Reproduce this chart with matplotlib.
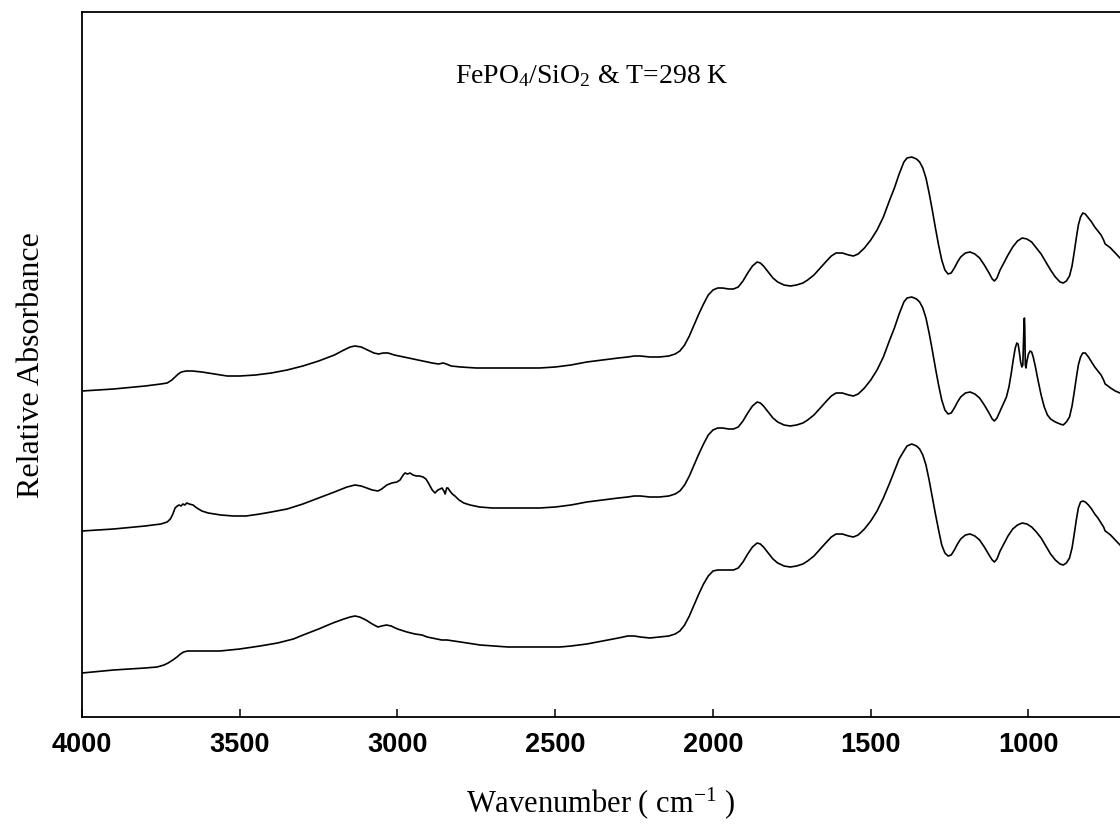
import matplotlib
matplotlib.use("Agg")
import matplotlib.pyplot as plt

# FTIR spectra of FePO4/SiO2 at 298 K: (wavenumber cm-1, absorbance a.u., stacked)
top_pts = [
    (4000, 326), (3900, 328), (3800, 331), (3750, 333), (3730, 334), (3715, 337),
    (3705, 340), (3695, 343), (3685, 345), (3670, 346), (3650, 346), (3620, 345),
    (3580, 343), (3540, 341), (3500, 341), (3450, 342), (3400, 344), (3350, 347),
    (3300, 351), (3250, 356), (3200, 362), (3170, 367), (3150, 370), (3135, 371),
    (3115, 370), (3095, 367), (3075, 364), (3060, 363), (3045, 364), (3030, 364),
    (3010, 362), (2980, 360), (2950, 358), (2920, 356), (2890, 354), (2870, 353),
    (2855, 354), (2845, 353), (2830, 351), (2800, 350), (2750, 349), (2700, 349),
    (2600, 349), (2550, 349), (2500, 350), (2450, 352), (2400, 355), (2350, 357),
    (2300, 359), (2270, 360), (2250, 361), (2230, 361), (2200, 360), (2170, 360),
    (2140, 361), (2120, 363), (2105, 366), (2090, 372), (2075, 381), (2060, 392),
    (2045, 403), (2030, 413), (2015, 422), (2000, 427), (1985, 429), (1970, 429),
    (1950, 428), (1935, 428), (1920, 430), (1905, 436), (1890, 444), (1875, 451),
    (1860, 455), (1850, 454), (1840, 451), (1825, 445), (1810, 439), (1795, 435),
    (1775, 432), (1755, 431), (1735, 432), (1715, 434), (1700, 437), (1680, 442),
    (1660, 449), (1640, 456), (1625, 461), (1610, 464), (1590, 464), (1570, 462),
    (1555, 461), (1540, 463), (1520, 469), (1500, 477), (1480, 487), (1460, 500),
    (1440, 517), (1425, 529), (1410, 543), (1395, 555), (1385, 559), (1370, 560),
    (1355, 558), (1345, 555), (1335, 549), (1325, 539), (1315, 524), (1305, 507),
    (1295, 489), (1285, 472), (1275, 457), (1265, 447), (1255, 443), (1245, 444),
    (1235, 449), (1225, 455), (1215, 460), (1200, 464), (1185, 465), (1170, 463),
    (1155, 459), (1140, 452), (1125, 444), (1115, 438), (1108, 436), (1100, 439),
    (1090, 447), (1080, 453), (1065, 462), (1050, 470), (1035, 476), (1020, 479),
    (1005, 478), (990, 475), (975, 469), (960, 463), (945, 455), (930, 447),
    (915, 440), (900, 435), (890, 434), (880, 436), (870, 441), (862, 451),
    (855, 465), (848, 480), (842, 492), (835, 500), (828, 504), (820, 503),
    (810, 499), (800, 495), (790, 490), (780, 486), (770, 482), (762, 477),
    (757, 473), (748, 471), (740, 469), (725, 464), (710, 459),
]

mid_pts = [
    (4000, 186), (3900, 188), (3800, 191), (3750, 193), (3730, 195), (3720, 198),
    (3712, 203), (3705, 209), (3698, 211), (3692, 212), (3686, 211), (3680, 213),
    (3674, 212), (3668, 214), (3660, 213), (3648, 212), (3636, 209), (3620, 206),
    (3600, 204), (3560, 202), (3520, 201), (3480, 201), (3436, 203), (3400, 205),
    (3350, 208), (3300, 213), (3250, 219), (3200, 225), (3160, 230), (3135, 232),
    (3115, 231), (3097, 229), (3080, 227), (3062, 226), (3050, 228), (3034, 232),
    (3018, 234), (3002, 235), (2992, 237), (2982, 242), (2976, 244), (2968, 243),
    (2960, 244), (2951, 242), (2940, 241), (2930, 241), (2919, 240), (2910, 238),
    (2902, 234), (2897, 231), (2890, 227), (2881, 224), (2872, 227), (2865, 228),
    (2859, 229), (2853, 226), (2849, 223), (2844, 229), (2840, 229), (2834, 226),
    (2826, 223), (2818, 221), (2805, 217), (2790, 214), (2770, 212), (2740, 210),
    (2700, 209), (2643, 209), (2600, 209), (2550, 209), (2500, 210), (2450, 212),
    (2400, 215), (2350, 217), (2300, 219), (2270, 220), (2250, 221), (2230, 221),
    (2200, 220), (2170, 220), (2140, 221), (2120, 223), (2105, 226), (2090, 232),
    (2075, 241), (2060, 252), (2045, 263), (2030, 273), (2015, 282), (2000, 287),
    (1985, 289), (1970, 289), (1950, 288), (1935, 288), (1920, 290), (1905, 296),
    (1890, 304), (1875, 311), (1860, 315), (1850, 314), (1840, 311), (1825, 305),
    (1810, 299), (1795, 295), (1775, 292), (1755, 291), (1735, 292), (1715, 294),
    (1700, 297), (1680, 302), (1660, 309), (1640, 316), (1625, 321), (1610, 324),
    (1590, 324), (1570, 322), (1555, 321), (1540, 323), (1520, 329), (1500, 337),
    (1480, 347), (1460, 360), (1440, 377), (1425, 389), (1410, 403), (1395, 415),
    (1385, 419), (1370, 420), (1355, 418), (1345, 415), (1335, 409), (1325, 399),
    (1315, 384), (1305, 367), (1295, 349), (1285, 332), (1275, 317), (1265, 307),
    (1255, 303), (1245, 304), (1235, 309), (1225, 315), (1215, 320), (1200, 324),
    (1185, 325), (1170, 323), (1155, 319), (1140, 312), (1125, 304), (1115, 298),
    (1108, 296), (1100, 299), (1090, 306), (1080, 313), (1070, 320), (1062, 330),
    (1055, 343), (1048, 358), (1042, 369), (1037, 374), (1033, 373), (1029, 365),
    (1025, 355), (1021, 350), (1018, 352), (1016, 375), (1014, 395), (1013, 399),
    (1012, 392), (1011, 370), (1010, 352), (1008, 349), (1005, 356), (1000, 363),
    (995, 366), (990, 365), (985, 360), (978, 350), (970, 337), (960, 322),
    (950, 310), (940, 302), (930, 298), (915, 295), (900, 293), (890, 292),
    (880, 295), (870, 300), (862, 311), (855, 325), (848, 340), (842, 352),
    (835, 360), (828, 364), (820, 364), (810, 360), (800, 355), (790, 350),
    (780, 346), (770, 342), (762, 337), (757, 333), (748, 331), (740, 329),
    (725, 326), (710, 324),
]

bot_pts = [
    (4000, 44), (3900, 47), (3800, 49), (3762, 50), (3740, 52), (3727, 54),
    (3712, 57), (3699, 60), (3688, 63), (3678, 65), (3665, 66), (3620, 66),
    (3563, 66), (3500, 68), (3436, 71), (3380, 74), (3330, 78), (3299, 82),
    (3250, 88), (3205, 94), (3170, 98), (3150, 100), (3135, 101), (3120, 100),
    (3100, 97), (3080, 93), (3062, 90), (3050, 91), (3035, 92), (3020, 91),
    (3000, 88), (2970, 85), (2945, 83), (2922, 82), (2906, 80), (2890, 79),
    (2875, 78), (2860, 77), (2843, 77), (2800, 75), (2738, 72), (2650, 70),
    (2589, 70), (2530, 70), (2485, 70), (2450, 71), (2400, 73), (2350, 76),
    (2300, 79), (2270, 81), (2250, 81), (2230, 80), (2200, 79), (2170, 80),
    (2140, 81), (2120, 83), (2105, 86), (2090, 92), (2075, 101), (2060, 112),
    (2045, 123), (2030, 133), (2015, 141), (2000, 146), (1985, 147), (1970, 147),
    (1950, 147), (1935, 147), (1920, 149), (1905, 155), (1890, 163), (1875, 170),
    (1860, 174), (1850, 173), (1840, 170), (1825, 164), (1810, 158), (1795, 154),
    (1775, 151), (1755, 150), (1735, 151), (1715, 153), (1700, 156), (1680, 161),
    (1660, 168), (1640, 175), (1625, 180), (1610, 183), (1590, 183), (1570, 181),
    (1555, 180), (1540, 182), (1520, 188), (1500, 196), (1480, 206), (1460, 219),
    (1440, 234), (1425, 246), (1410, 258), (1395, 266), (1385, 271), (1370, 273),
    (1355, 271), (1345, 268), (1335, 262), (1325, 252), (1315, 237), (1305, 220),
    (1295, 203), (1285, 187), (1275, 172), (1265, 164), (1255, 161), (1245, 162),
    (1235, 167), (1225, 173), (1215, 178), (1200, 182), (1185, 183), (1170, 181),
    (1155, 177), (1140, 170), (1125, 162), (1115, 157), (1108, 155), (1100, 158),
    (1090, 166), (1080, 172), (1065, 181), (1050, 188), (1035, 192), (1020, 194),
    (1005, 193), (990, 190), (975, 185), (960, 179), (945, 171), (930, 163),
    (915, 157), (900, 153), (890, 152), (880, 154), (870, 159), (862, 169),
    (855, 183), (848, 198), (842, 209), (835, 215), (828, 216), (820, 215),
    (810, 212), (800, 208), (790, 203), (780, 199), (770, 194), (762, 190),
    (757, 186), (748, 184), (740, 182), (725, 177), (710, 172),
]

x_ticks = [4000, 3500, 3000, 2500, 2000, 1500, 1000]
x_tick_labels = ["4000", "3500", "3000", "2500", "2000", "1500", "1000"]

plt.rcParams["mathtext.fontset"] = "custom"
plt.rcParams["mathtext.rm"] = "Liberation Serif"
plt.rcParams["mathtext.it"] = "Liberation Serif:italic"
plt.rcParams["mathtext.bf"] = "Liberation Serif:bold"

W, H = 1120, 832
fig = plt.figure(figsize=(W / 100, H / 100), dpi=100)
left_px, bottom_px, top_px = 82, 717, 12
x_lo, x_hi = 4000, 600
px_per_unit = 0.3155
right_px = left_px + (x_lo - x_hi) * px_per_unit
ax = fig.add_axes([left_px / W, (H - bottom_px) / H,
                   (right_px - left_px) / W, (bottom_px - top_px) / H])

for pts in (top_pts, mid_pts, bot_pts):
    wn, ab = zip(*pts)
    ax.plot(wn, ab, color="black", lw=1.2, solid_joinstyle="round")

ax.set_xlim(x_lo, x_hi)
ax.set_ylim(0, 705)
ax.set_yticks([])
ax.set_xticks(x_ticks)
ax.set_xticklabels(x_tick_labels, fontfamily="Liberation Sans",
                   fontweight="bold", fontsize=19.5)
ax.tick_params(axis="x", direction="in", length=6, width=1.1, pad=11)
for s in ax.spines.values():
    s.set_linewidth(1.3)

serif = "Liberation Serif"
fig.text(592 / W, 1 - 76 / H, r"FePO$_4$/SiO$_2$ & T=298 K",
         fontfamily=serif, fontsize=20, ha="center", va="center")
fig.text(32 / W, 1 - 365 / H, "Relative Absorbance", fontfamily=serif,
         fontsize=23, rotation=90, ha="center", va="center")
fig.text(601 / W, 1 - 803 / H, r"Wavenumber ( cm$^{-1}$ )", fontfamily=serif,
         fontsize=22, ha="center", va="center")

fig.savefig("out.png", dpi=100)
